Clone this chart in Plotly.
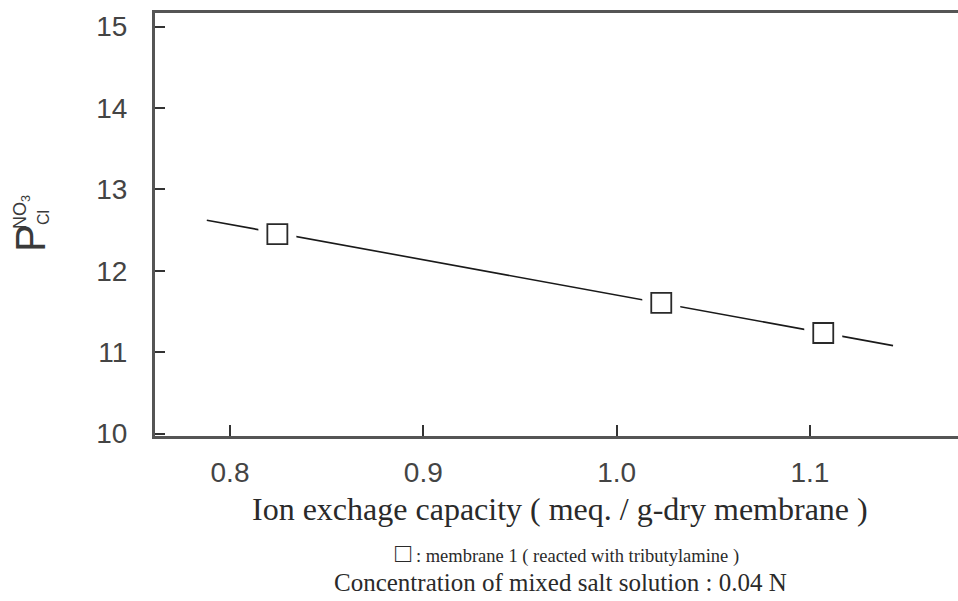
import plotly.graph_objects as go

# Data
capacity = [0.8245, 1.0231, 1.1069]          # Ion exchange capacity (meq./g-dry membrane)
selectivity = [12.45, 11.605, 11.236]        # P_Cl^NO3
fit_x = [0.788, 1.143]                       # regression line ends
fit_y = [12.622, 11.081]
x_ticks = [0.8, 0.9, 1.0, 1.1]
x_tick_text = ["0.8", "0.9", "1.0", "1.1"]
y_ticks = [10, 11, 12, 13, 14, 15]

W, H = 958, 601
L, R, T, B = 155, 0, 13, 165
pw, ph = W - L - R, H - T - B

def px(xp):
    return (xp - L) / pw

def py(yp):
    return (H - B - yp) / ph

fig = go.Figure()
fig.add_trace(go.Scatter(x=fit_x, y=fit_y, mode="lines",
                         line=dict(color="#1a1a1a", width=1.6),
                         showlegend=False, hoverinfo="skip"))
# white mask producing the gap of the line around each marker
fig.add_trace(go.Scatter(x=capacity, y=selectivity, mode="markers",
                         marker=dict(symbol="square", size=38, color="white",
                                     line=dict(width=0)),
                         showlegend=False, hoverinfo="skip"))
fig.add_trace(go.Scatter(x=capacity, y=selectivity, mode="markers",
                         name="membrane 1 ( reacted with tributylamine )",
                         marker=dict(symbol="square-open", size=20, color="#2a2a2a",
                                     line=dict(width=1.8)),
                         showlegend=False))

sans = "Liberation Sans, Arial, sans-serif"
tick_font = dict(family=sans, size=28, color="#444444")

fig.update_layout(
    width=W, height=H,
    margin=dict(l=L, r=R, t=T, b=B),
    paper_bgcolor="white", plot_bgcolor="white",
    showlegend=False,
    xaxis=dict(range=[0.7612, 1.1766], tickvals=x_ticks, ticktext=x_tick_text,
               ticks="inside", ticklen=11, tickwidth=1.5, tickcolor="#333",
               showline=True, linecolor="#555", linewidth=2.5, mirror=True,
               showgrid=False, zeroline=False, tickfont=tick_font,
               ticklabelstandoff=10),
    yaxis=dict(range=[9.97, 15.168], tickvals=y_ticks,
               ticks="inside", ticklen=10, tickwidth=1.5, tickcolor="#333",
               showline=True, linecolor="#555", linewidth=3, mirror=False,
               showgrid=False, zeroline=False, tickfont=tick_font,
               ticklabelstandoff=19),
)

serif = "Liberation Serif, Times New Roman, serif"
ann = [
    dict(text="Ion exchage capacity ( meq. / g-dry membrane )", x=px(560), y=py(509),
         font=dict(family=serif, size=32, color="#2a2a2a")),
    dict(text='<span style="font-size:27px">□</span> : membrane 1 ( reacted with tributylamine )',
         x=px(567), y=py(553), font=dict(family=serif, size=18.5, color="#2a2a2a")),
    dict(text="Concentration of mixed salt solution : 0.04 N", x=px(560), y=py(582),
         font=dict(family=serif, size=25, color="#2a2a2a")),
    dict(text="P", x=px(30), y=py(238), textangle=-90,
         font=dict(family=sans, size=42, color="#3a3a3a")),
    dict(text="NO<sub>3</sub>", x=px(21), y=py(212), textangle=-90,
         font=dict(family=sans, size=18, color="#3a3a3a")),
    dict(text="Cl", x=px(43), y=py(218), textangle=-90,
         font=dict(family=sans, size=16, color="#3a3a3a")),
]
for a in ann:
    fig.add_annotation(xref="paper", yref="paper", showarrow=False,
                       xanchor="center", yanchor="middle", **a)

fig.write_html("out.html")
